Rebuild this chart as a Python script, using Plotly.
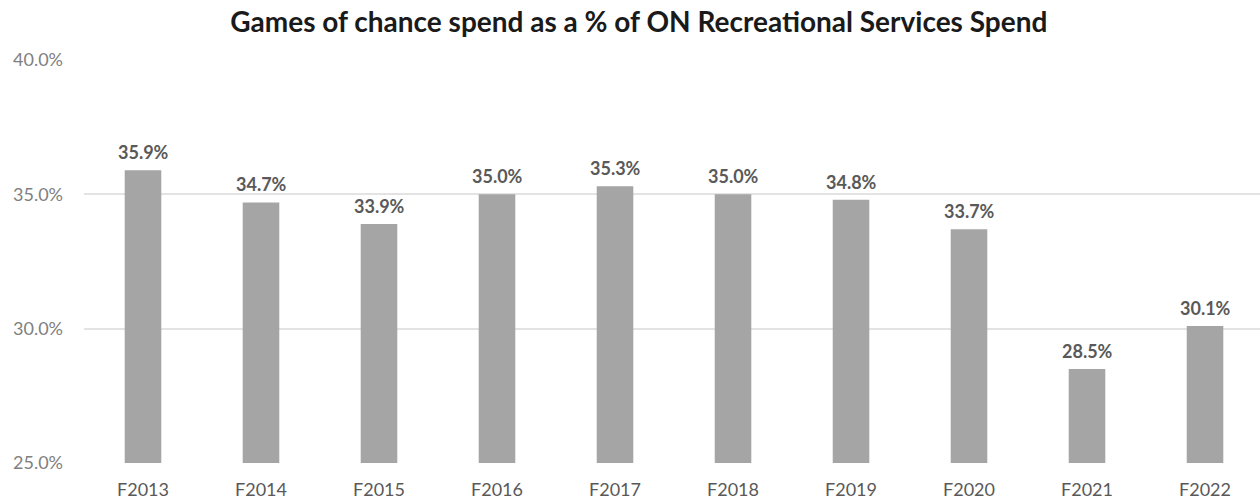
import plotly.graph_objects as go

years = ["F2013", "F2014", "F2015", "F2016", "F2017",
         "F2018", "F2019", "F2020", "F2021", "F2022"]
share_pct = [35.9, 34.7, 33.9, 35.0, 35.3, 35.0, 34.8, 33.7, 28.5, 30.1]
y_ticks = [25, 30, 35, 40]
y_tick_labels = ["25.0%", "30.0%", "35.0%", "40.0%"]

FONT = "Lato, 'Open Sans', sans-serif"

fig = go.Figure(
    go.Bar(
        x=years,
        y=share_pct,
        marker=dict(color="#a5a5a5", line=dict(width=0)),
        hoverinfo="skip",
    )
)

# value labels sit a fixed distance above each bar
for yr, v in zip(years, share_pct):
    fig.add_annotation(
        x=yr,
        y=v,
        text=f"<b>{v:.1f}%</b>",
        showarrow=False,
        yanchor="middle",
        yshift=18,
        font=dict(family=FONT, size=18, color="#595959"),
    )

fig.update_layout(
    width=1260,
    height=502,
    margin=dict(l=84, r=0, t=60, b=39),
    paper_bgcolor="white",
    plot_bgcolor="white",
    showlegend=False,
    bargap=0.69,
    title=dict(
        text="<b>Games of chance spend as a % of ON Recreational Services Spend</b>",
        x=0.507,
        xanchor="center",
        y=1 - 22 / 502,
        yanchor="middle",
        font=dict(family=FONT, size=28, color="#1a1a1a"),
    ),
    xaxis=dict(
        range=[-0.5, 9.466],
        showgrid=False,
        showline=False,
        ticks="",
        ticklabelstandoff=14,
        tickfont=dict(family=FONT, size=18, color="#595959"),
    ),
    yaxis=dict(
        range=[25, 40],
        tickvals=y_ticks,
        ticktext=y_tick_labels,
        showgrid=True,
        gridcolor="#e3e3e3",
        gridwidth=1.5,
        zeroline=False,
        showline=False,
        ticks="",
        ticklabelstandoff=20,
        tickfont=dict(family=FONT, size=18, color="#808080"),
    ),
)

fig.write_html("out.html")
